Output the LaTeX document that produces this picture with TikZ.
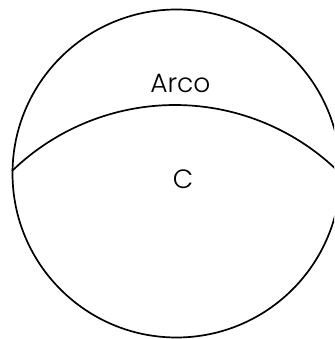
\documentclass[tikz,border=0pt]{standalone}
\usepackage{fontspec}
\setmainfont{Poppins}[UprightFont={* Light}]
\begin{document}
\begin{tikzpicture}[x=1pt,y=1pt,
  shape line/.style={line width=1.7pt,black},
  lbl/.style={inner sep=0pt,anchor=base,font=\fontsize{26.5}{31}\selectfont}]
\useasboundingbox (0,0) rectangle (334,339);
\clip (0,0) rectangle (334,339);
\coordinate (cc) at (176.5,165.5);
\draw[shape line] (cc) circle[radius=164];
\coordinate (arcstart) at (12,168);
\draw[shape line] (arcstart) arc[start angle=134.1,end angle=40,radius=234.1];
\node[lbl] (arco) at (180.4,246.7) {Arco};
\node[lbl] (c) at (183,150.7) {C};
\end{tikzpicture}
\end{document}
